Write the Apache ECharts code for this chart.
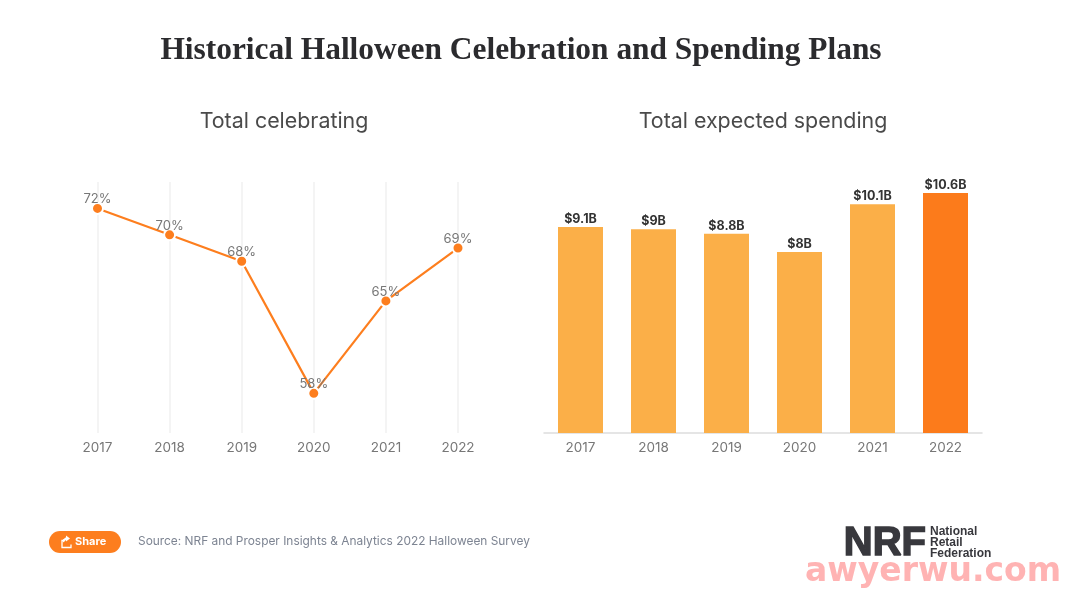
<!DOCTYPE html>
<html>
<head>
<meta charset="utf-8">
<title>Historical Halloween Celebration and Spending Plans</title>
<style>
html,body{margin:0;padding:0;background:#fff;}
#main{width:1080px;height:599px;}
</style>
<script src="https://cdn.jsdelivr.net/npm/echarts@6/dist/echarts.min.js"></script>
</head>
<body>
<div id="main"></div>
<script>
var years = ["2017","2018","2019","2020","2021","2022"];
var celebrating = [72,70,68,58,65,69];   //Total celebrating, %
var spending = [9.1,9,8.8,8,10.1,10.6];  //Total expected spending, $B

var sansFont = "Inter";
var orange = "#FD7E1E";
var lightOrange = "#FBAF48";

var myChart = echarts.init(document.getElementById("main"));

/*the last bar is the dark one*/
var barData = [];
for(var i=0;i<spending.length;i++){
    barData.push({
        value:spending[i],
        itemStyle:{color:i==spending.length-1 ? "#FC7B1B" : lightOrange}
    });
}

myChart.setOption({
    animation:false,
    backgroundColor:"#fff",
    title:[
        {text:"Historical Halloween Celebration and Spending Plans",left:516,top:30,textAlign:"center",
            textStyle:{fontFamily:"Liberation Serif",fontWeight:"bold",fontSize:31.4,color:"#2b2b2e"}},
        {text:"Total celebrating",left:279,top:106,textAlign:"center",
            textStyle:{fontFamily:sansFont,fontWeight:"normal",fontSize:21.4,color:"#4a4a4a"}},
        {text:"Total expected spending",left:758,top:106,textAlign:"center",
            textStyle:{fontFamily:sansFont,fontWeight:"normal",fontSize:21.4,color:"#4a4a4a"}}
    ],
    grid:[
        {left:97.5,width:360.5,top:182,height:251,containLabel:false},
        {left:544,width:438,top:184,height:249,containLabel:false}
    ],
    xAxis:[
        {
            type:"category",gridIndex:0,data:years,boundaryGap:false,
            axisLine:{show:false},axisTick:{show:false},
            axisLabel:{color:"#777",fontFamily:sansFont,fontSize:13.5,margin:8,showMinLabel:true,showMaxLabel:true},
            splitLine:{show:true,lineStyle:{color:"#f1f1f1",width:1.5}}
        },
        {
            type:"category",gridIndex:1,data:years,
            axisLine:{show:true,lineStyle:{color:"#dddddd",width:1.5}},axisTick:{show:false},
            axisLabel:{color:"#777",fontFamily:sansFont,fontSize:13.5,margin:8},
            splitLine:{show:false}
        }
    ],
    yAxis:[
        {type:"value",gridIndex:0,min:55,max:74,show:false,splitLine:{show:false}},
        {type:"value",gridIndex:1,min:0,max:11,show:false,splitLine:{show:false}}
    ],
    series:[
        {
            type:"line",xAxisIndex:0,yAxisIndex:0,data:celebrating,
            symbol:"circle",symbolSize:11,
            lineStyle:{color:orange,width:2.2},
            itemStyle:{color:orange,borderColor:"#fff",borderWidth:2},
            label:{show:true,position:"top",distance:-4,color:"#777",fontFamily:sansFont,fontSize:13,
                formatter:function(p){return p.value+"%";}}
        },
        {
            type:"bar",xAxisIndex:1,yAxisIndex:1,data:barData,barWidth:45,
            label:{show:true,position:"top",distance:1.5,color:"#333",fontFamily:sansFont,fontWeight:"bold",fontSize:12.5,
                formatter:function(p){return "$"+p.value+"B";}}
        }
    ],
    graphic:[
        /*Share 按钮*/
        {type:"rect",left:49,top:531,shape:{width:72,height:22,r:11},style:{fill:orange}},
        {type:"polyline",left:59.5,top:538,shape:{points:[[3,0],[0,0],[0,7],[9,7],[9,4]]},style:{fill:"none",stroke:"#fff",lineWidth:1.3}},
        {type:"polygon",left:63,top:535.5,shape:{points:[[3,0],[7,3],[3,6],[3,4.5],[0,7],[0,4],[3,1.8]]},style:{fill:"#fff"}},
        {type:"text",left:75,top:536.5,style:{text:"Share",fill:"#fff",fontFamily:sansFont,fontSize:11,fontWeight:"bold"}},
        /*来源*/
        {type:"text",left:138,top:535,style:{text:"Source: NRF and Prosper Insights & Analytics 2022 Halloween Survey",
            fill:"#7d8492",fontFamily:sansFont,fontSize:11.9}},
        /*NRF logo*/
        {type:"text",left:843,top:523,style:{text:"NRF",fill:"#38383d",stroke:"#38383d",lineWidth:1.5,
            fontFamily:"Liberation Sans",fontSize:40,fontWeight:"bold"}},
        {type:"text",left:930,top:526,style:{text:"National\nRetail\nFederation",fill:"#38383d",
            fontFamily:"Liberation Sans",fontSize:12,fontWeight:"bold",lineHeight:10.7}},
        /*watermark*/
        {type:"text",left:805,top:556,z:10,style:{text:"awyerwu.com",fill:"#FFB3B3",
            fontFamily:"DejaVu Sans",fontSize:33,fontWeight:"bold"}}
    ]
});
</script>
</body>
</html>
